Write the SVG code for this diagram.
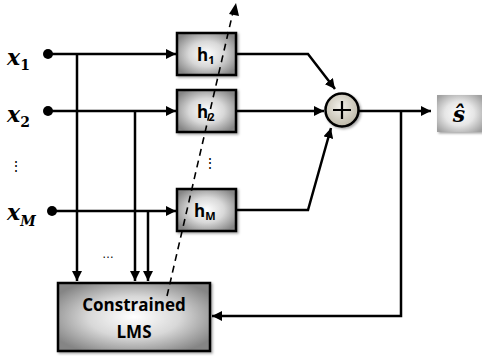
<svg xmlns="http://www.w3.org/2000/svg" width="482" height="356" viewBox="0 0 482 356">
<defs>
<radialGradient id="boxg" cx="0.5" cy="0.5" r="0.6">
<stop offset="0" stop-color="#ffffff"/>
<stop offset="0.5" stop-color="#d8d8d8"/>
<stop offset="1" stop-color="#858585"/>
</radialGradient>
<radialGradient id="shat" cx="0.5" cy="0.5" r="0.65">
<stop offset="0" stop-color="#ffffff"/>
<stop offset="0.5" stop-color="#e6e6e6"/>
<stop offset="1" stop-color="#a0a0a0"/>
</radialGradient>
<radialGradient id="sumg" cx="0.45" cy="0.4" r="0.6">
<stop offset="0" stop-color="#f2f0ea"/>
<stop offset="1" stop-color="#bdb8a8"/>
</radialGradient>
<marker id="ah" viewBox="0 0 10 10" refX="10" refY="5" markerWidth="4" markerHeight="4" orient="auto" markerUnits="strokeWidth">
<path d="M0,0 L10,5 L0,10 z" fill="#000"/>
</marker>
<filter id="sh" x="-20%" y="-20%" width="140%" height="140%">
<feDropShadow dx="1.5" dy="1.5" stdDeviation="1.2" flood-color="#000" flood-opacity="0.35"/>
</filter>
</defs>
<style>
.ln{fill:none;stroke:#000;stroke-width:2.5;stroke-linejoin:miter}
.box{fill:url(#boxg);stroke:#000;stroke-width:2.5}
.lbl{font-family:"Open Sans","Liberation Sans",sans-serif;font-weight:bold;fill:#000}
.math{font-family:"DejaVu Serif","Liberation Serif",serif;font-style:italic;font-weight:bold;fill:#000}
.dots{font-family:"Liberation Sans",sans-serif;fill:#000}
</style>

<g id="connectors">
<line class="ln" x1="48" y1="54" x2="176" y2="54" marker-end="url(#ah)"/>
<line class="ln" x1="48" y1="111" x2="176" y2="111" marker-end="url(#ah)"/>
<line class="ln" x1="52" y1="211" x2="176" y2="211" marker-end="url(#ah)"/>
<line class="ln" x1="77" y1="54" x2="77" y2="281" marker-end="url(#ah)"/>
<line class="ln" x1="135" y1="111" x2="135" y2="281" marker-end="url(#ah)"/>
<line class="ln" x1="148" y1="211" x2="148" y2="281" marker-end="url(#ah)"/>
<polyline class="ln" points="236,54 308,54 335,89" marker-end="url(#ah)"/>
<line class="ln" x1="236" y1="111" x2="324" y2="111" marker-end="url(#ah)"/>
<polyline class="ln" points="236,210 308,210 331,128" marker-end="url(#ah)"/>
<line class="ln" x1="359" y1="111" x2="431" y2="111" marker-end="url(#ah)"/>
<polyline class="ln" points="401,111 401,316 212,316" marker-end="url(#ah)"/>
</g>

<g id="x1"><circle cx="48" cy="54" r="5"/><text class="math" x="7" y="65" font-size="22">x<tspan font-size="14" dy="5" font-style="normal">1</tspan></text></g>
<g id="x2"><circle cx="48" cy="111" r="5"/><text class="math" x="7" y="122" font-size="22">x<tspan font-size="14" dy="5" font-style="normal">2</tspan></text></g>
<g id="xdots"><text class="dots" x="16" y="171" font-size="14" text-anchor="middle">⋮</text></g>
<g id="xM"><circle cx="52" cy="211" r="5"/><text class="math" x="7" y="220" font-size="22">x<tspan font-size="14" dy="6">M</tspan></text></g>

<g id="h1"><rect class="box" x="177" y="33" width="59" height="42" filter="url(#sh)"/><text class="lbl" x="197" y="61" font-size="17">h<tspan font-size="11" dy="3">1</tspan></text></g>
<g id="h2"><rect class="box" x="177" y="90" width="59" height="42" filter="url(#sh)"/><text class="lbl" x="197" y="118" font-size="17">h<tspan font-size="11" dy="3">2</tspan></text></g>
<g id="hdots"><text class="dots" x="210" y="168" font-size="14" text-anchor="middle">⋮</text></g>
<g id="hM"><rect class="box" x="177" y="189" width="59" height="42" filter="url(#sh)"/><text class="lbl" x="194" y="217" font-size="17">h<tspan font-size="11" dy="3">M</tspan></text></g>
<g id="midDots"><text class="dots" x="108" y="258" font-size="12" text-anchor="middle">…</text></g>

<g id="LMS"><rect class="box" x="58" y="283" width="152" height="68" filter="url(#sh)"/>
<text class="lbl" x="134" y="311" font-size="17" text-anchor="middle">Constrained</text>
<text class="lbl" x="134" y="338" font-size="17" text-anchor="middle">LMS</text></g>

<g id="sum"><circle cx="342" cy="110" r="16.5" fill="url(#sumg)" stroke="#000" stroke-width="2.5" filter="url(#sh)"/>
<path d="M333,110 H351 M342,101 V119" stroke="#000" stroke-width="2.2"/></g>

<g id="shat-node"><rect x="437" y="95" width="45" height="37" fill="url(#shat)" filter="url(#sh)"/>
<text class="math" x="459" y="122" font-size="22" text-anchor="middle">ŝ</text></g>

<g id="adaptation">
<line x1="167" y1="296" x2="233" y2="12" stroke="#000" stroke-width="1.6" stroke-dasharray="7,5"/>
<path d="M236,3 L239,16 L229,14 z" fill="#000"/>
</g>
</svg>
